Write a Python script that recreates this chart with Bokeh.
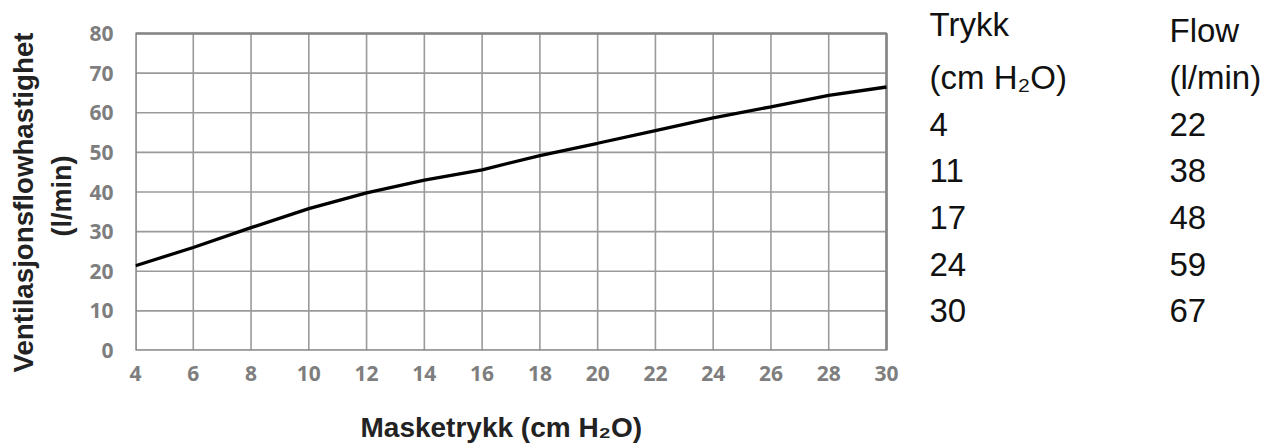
from bokeh.plotting import figure
from bokeh.models import Range1d, FixedTicker, ColumnDataSource, Title
from bokeh.embed import file_html
from bokeh.resources import INLINE
from bokeh.core.properties import value

# ---- data ----
pressure = [4, 6, 8, 10, 12, 14, 16, 18, 20, 22, 24, 26, 28, 30]
flow = [21.4, 26.0, 31.0, 35.8, 39.8, 43.0, 45.6, 49.2, 52.3, 55.5, 58.7, 61.5, 64.4, 66.5]
x_ticks = list(range(4, 31, 2))
y_ticks = list(range(0, 81, 10))
table_head_left = ["Trykk", "(cm H\u2082O)"]
table_head_right = ["Flow", "(l/min)"]
table_pressure = [4, 11, 17, 24, 30]
table_flow = [22, 38, 48, 59, 67]
x_title = "Masketrykk (cm H\u2082O)"
y_title = "Ventilasjonsflowhastighet"
y_unit = "(l/min)"

# ---- geometry (page pixels) ----
W, H = 1262, 445
FX0, FX1 = 135, 886      # pixel x of x = 4 and x = 30
FY0, FY1 = 33, 350       # pixel y of y = 80 and y = 0
x_lo, x_hi = min(x_ticks), max(x_ticks)
y_lo, y_hi = min(y_ticks), max(y_ticks)


def dx(px):
    return x_lo + (px - FX0) * (x_hi - x_lo) / (FX1 - FX0)


def dy(py):
    return y_lo + (FY1 - py) * (y_hi - y_lo) / (FY1 - FY0)


# the frame reaches the right and top page edges so the table can live inside it
p = figure(width=W, height=H, output_backend="svg", toolbar_location=None,
           x_range=Range1d(x_lo, dx(W)), y_range=Range1d(y_lo, dy(0)),
           min_border_left=FX0, min_border_right=0,
           min_border_top=0, min_border_bottom=H - FY1)
p.background_fill_color = "white"
p.border_fill_color = "white"
p.outline_line_color = None
p.grid.visible = False

# axes
for ax in (p.xaxis[0], p.yaxis[0]):
    ax.axis_line_color = None
    ax.major_tick_line_color = None
    ax.minor_tick_line_color = None
    ax.major_tick_out = 0
    ax.major_tick_in = 0
    ax.major_label_text_font = "Open Sans"
    ax.major_label_text_font_style = "bold"
    ax.major_label_text_font_size = "21px"
    ax.major_label_text_color = "#7e7e7e"
p.xaxis[0].ticker = FixedTicker(ticks=x_ticks)
p.yaxis[0].ticker = FixedTicker(ticks=y_ticks)
p.xaxis[0].major_label_standoff = 15
p.yaxis[0].major_label_standoff = 22
# blank spacer label: pushes the x title (stacked below the axis) lower
p.xaxis[0].axis_label = "\u00a0"
p.xaxis[0].axis_label_text_font_size = "1px"
p.xaxis[0].axis_label_standoff = 24

TITLE_STYLE = dict(text_font="Liberation Sans", text_font_style="bold", text_color="#222222")

# y titles (stacked outward from the axis), placed from the top edge
p.add_layout(Title(text=y_unit, align="right", offset=155, vertical_align="top",
                   standoff=16, text_font_size="27px", **TITLE_STYLE), "left")
p.add_layout(Title(text=y_title, align="right", offset=32, vertical_align="bottom",
                   standoff=0, text_font_size="27.7px", **TITLE_STYLE), "left")
# x title, placed from the left edge of the chart
p.add_layout(Title(text=x_title, align="left", offset=225, vertical_align="top",
                   standoff=0, text_font_size="28px", **TITLE_STYLE), "below")

# grid lines limited to the chart area
p.segment(x0=x_ticks, x1=x_ticks, y0=[y_lo] * len(x_ticks), y1=[y_hi] * len(x_ticks),
          line_color="#9a9a9a", line_width=1.6)
p.segment(x0=[x_lo] * len(y_ticks), x1=[x_hi] * len(y_ticks), y0=y_ticks, y1=y_ticks,
          line_color="#9a9a9a", line_width=1.6)
p.quad(left=[x_lo], right=[x_hi], bottom=[y_lo], top=[y_hi],
       fill_color=None, line_color="#858585", line_width=2.6)

# curve
p.line(pressure, flow, line_color="black", line_width=3.3)

# ---- table ----
left_col = table_head_left + [str(v) for v in table_pressure]
right_col = table_head_right + [str(v) for v in table_flow]
left_base = [37, 90, 137, 183, 230, 277, 323]
right_base = [43, 90, 137, 183, 230, 277, 323]
CAP_HALF = 13.5
src = ColumnDataSource(dict(
    x=[dx(929)] * len(left_col) + [dx(1169)] * len(right_col),
    y=[dy(b - CAP_HALF) for b in left_base + right_base],
    text=left_col + right_col))
p.text(x="x", y="y", text="text", source=src,
       text_font=value("Liberation Sans"),
       text_font_size="33px", text_color="#111111",
       text_align="left", text_baseline="middle")

open("out.html", "w").write(file_html(p, INLINE))
